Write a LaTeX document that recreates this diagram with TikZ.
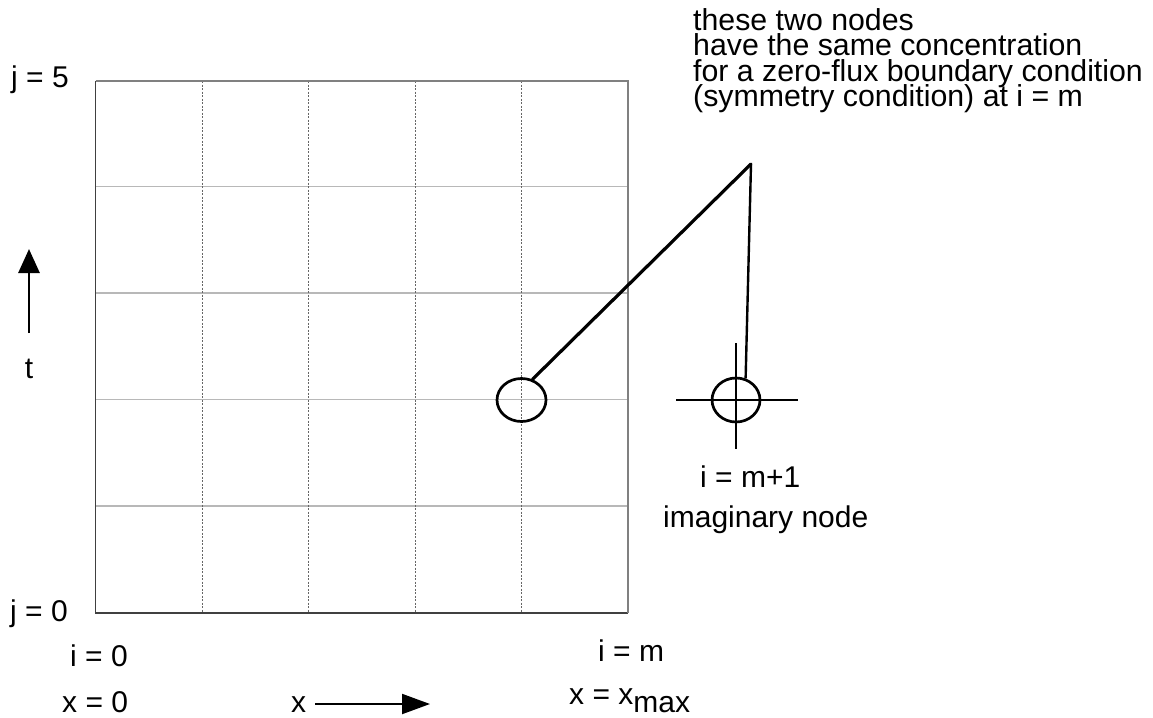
\documentclass[tikz,border=0pt]{standalone}
\usepackage{fontspec}
\setmainfont{Liberation Sans}
\usetikzlibrary{arrows.meta,shapes.geometric}
\newcommand{\mytightlines}{\lineskiplimit=-50pt\relax\lineskip=0pt\relax}
\begin{document}
\begin{tikzpicture}[x=1pt,y=-1pt,
  lbl/.style={inner sep=0pt, anchor=base west, font=\fontsize{30}{30}\selectfont},
  gridline/.style={draw=black!28, line width=1.3pt},
  dotline/.style={draw=black!60, line width=1pt, dash pattern=on 2pt off 1.5pt},
  borderdark/.style={draw=black!75, line width=1.4pt},
  borderlight/.style={draw=black!50, line width=1.6pt},
  markell/.style={draw, ellipse, line width=2.7pt, minimum width=49pt, minimum height=43pt, inner sep=0pt},
  leader/.style={line width=3.2pt, line cap=round, line join=miter},
  cross/.style={line width=2.5pt},
  bigarrow/.style={line width=2.7pt, -{Triangle[length=24pt,width=21pt]}}
]
\useasboundingbox (0,0) rectangle (1153,717);
\fill[white] (0,0) rectangle (1153,717);

% grid
\foreach \yy in {186.5,293,399.5,506} {\draw[gridline] (95.5,\yy) -- (628,\yy);}
\foreach \xx in {202,308.5,415,521.5} {\draw[dotline] (\xx,81) -- (\xx,613);}
\draw[borderdark] (95.5,81) -- (95.5,613) -- (628,613);
\draw[borderlight] (95.5,81) -- (628,81) -- (628,613);

% marked nodes
\node[markell] (c1) at (521.5,400) {};
\node[markell, minimum height=44pt, minimum width=48pt] (c2) at (736,400) {};
\coordinate (chl) at (676,400);
\coordinate (chr) at (798,400);
\coordinate (cht) at (736,343);
\coordinate (chb) at (736,449);
\draw[cross] (chl) -- (chr);
\draw[cross] (cht) -- (chb);

% leader
\coordinate (apex) at (751,164);
\draw[leader] (c1.62) -- (apex);
\draw[line width=2.4pt] (apex) -- (c2.66);

% time arrow
\coordinate (ta) at (29,333);
\coordinate (tb) at (29,249);
\draw[bigarrow] (ta) -- (tb);
\node[inner sep=0pt, anchor=base, font=\fontsize{30}{30}\selectfont] (tlab) at (29,378) {t};

% x arrow
\node[lbl] (xlab) at (291,712) {x};
\coordinate (xa) at (315,704);
\coordinate (xb) at (430,704);
\draw[line width=2pt, -{Triangle[length=28pt,width=20pt]}] (xa) -- (xb);

% labels
\node[lbl] (j5) at (11,87) {j = 5};
\node[lbl] (j0) at (10,621) {j = 0};
\node[lbl] (i0) at (70,666) {i = 0};
\node[lbl] (x0) at (62,712) {x = 0};
\node[lbl] (im) at (598,661) {i = m};
\node[lbl] (xm) at (569,704) {x = x\raisebox{-8pt}{max}};
\node[lbl] (im1) at (700,487) {i = m+1};
\node[lbl] (imag) at (663,527) {imaginary node};

\node[inner sep=0pt, anchor=north west, align=left,
      font=\fontsize{30.3}{25.5}\selectfont\mytightlines] (note) at (693,8)
  {these two nodes\\have the same concentration\\for a zero-flux boundary condition\\(symmetry condition) at i = m};
\end{tikzpicture}
\end{document}
